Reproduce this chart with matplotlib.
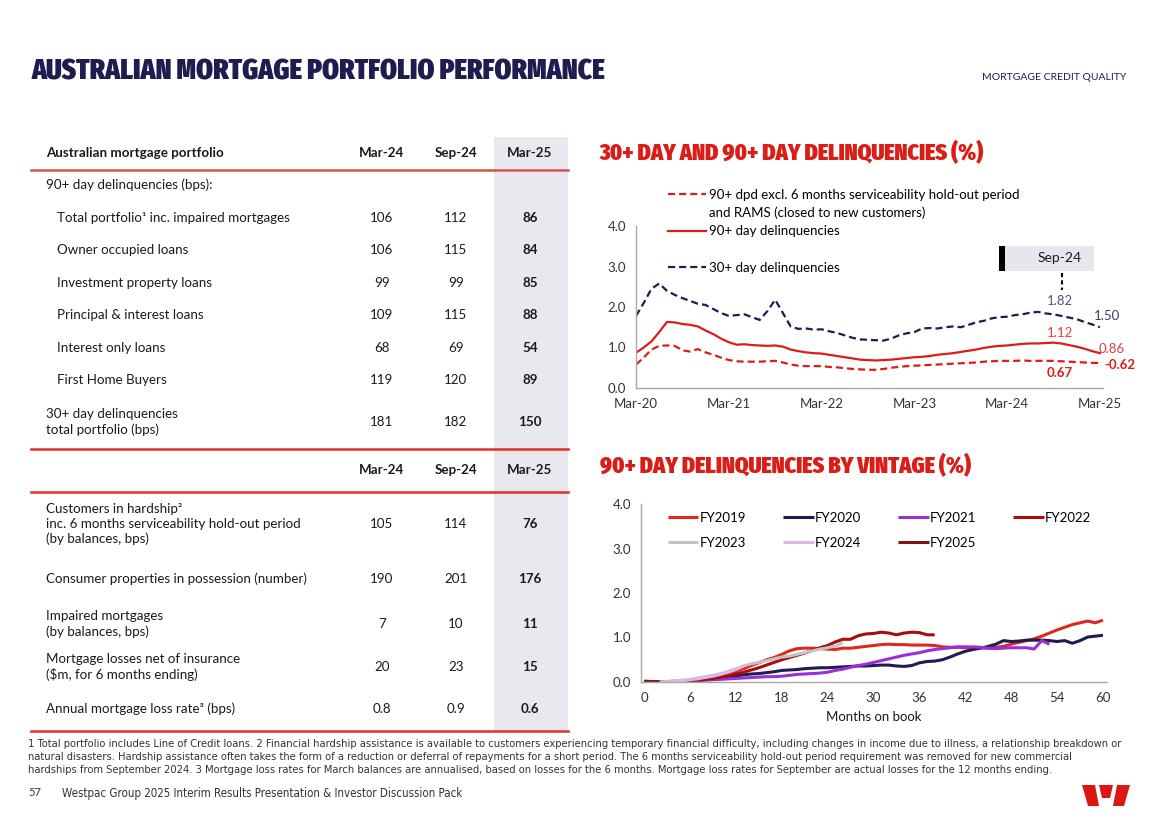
import numpy as np
import matplotlib
matplotlib.use("Agg")
import matplotlib.pyplot as plt
from matplotlib import font_manager as fm
from matplotlib.font_manager import FontProperties
from matplotlib.lines import Line2D
from matplotlib.patches import Rectangle, Polygon

W, H = 1168, 825

# ---------------- table data ----------------
col_heads = ["Mar-24", "Sep-24", "Mar-25"]

dlq_rows = ["Total portfolio¹ inc. impaired mortgages", "Owner occupied loans",
            "Investment property loans", "Principal & interest loans",
            "Interest only loans", "First Home Buyers",
            "30+ day delinquencies\ntotal portfolio (bps)"]
dlq_mar24 = ["106", "106", "99", "109", "68", "119", "181"]
dlq_sep24 = ["112", "115", "99", "115", "69", "120", "182"]
dlq_mar25 = ["86", "84", "85", "88", "54", "89", "150"]

other_rows = ["Customers in hardship²\ninc. 6 months serviceability hold-out period\n(by balances, bps)",
              "Consumer properties in possession (number)",
              "Impaired mortgages\n(by balances, bps)",
              "Mortgage losses net of insurance\n($m, for 6 months ending)",
              "Annual mortgage loss rate³ (bps)"]
other_mar24 = ["105", "190", "7", "20", "0.8"]
other_sep24 = ["114", "201", "10", "23", "0.9"]
other_mar25 = ["76", "176", "11", "15", "0.6"]

# ---------------- delinquency trend (monthly, Mar-20 .. Mar-25) ----------------
dlq_labels = ["Mar-20", "Mar-21", "Mar-22", "Mar-23", "Mar-24", "Mar-25"]
dpd30 = [1.78, 2.10, 2.45, 2.58, 2.40, 2.30, 2.22, 2.15, 2.08, 2.05, 1.95, 1.85,
         1.78, 1.80, 1.82, 1.75, 1.68, 1.90, 2.18, 1.85, 1.52, 1.46, 1.47, 1.44,
         1.45, 1.40, 1.36, 1.30, 1.24, 1.20, 1.19, 1.18, 1.17, 1.22, 1.30, 1.35,
         1.38, 1.47, 1.48, 1.47, 1.50, 1.52, 1.50, 1.56, 1.62, 1.66, 1.72, 1.75,
         1.76, 1.80, 1.82, 1.86, 1.88, 1.84, 1.82, 1.78, 1.74, 1.70, 1.63, 1.57, 1.50]
dpd90 = [0.87, 1.00, 1.15, 1.38, 1.63, 1.62, 1.58, 1.56, 1.52, 1.42, 1.33, 1.22,
         1.13, 1.07, 1.08, 1.06, 1.05, 1.04, 1.05, 1.02, 0.95, 0.91, 0.88, 0.86,
         0.85, 0.82, 0.79, 0.76, 0.73, 0.70, 0.69, 0.68, 0.69, 0.70, 0.72, 0.74,
         0.76, 0.77, 0.79, 0.82, 0.84, 0.86, 0.89, 0.92, 0.95, 0.99, 1.02, 1.04,
         1.05, 1.07, 1.09, 1.10, 1.10, 1.11, 1.12, 1.10, 1.06, 1.02, 0.97, 0.91, 0.86]
dpd90_excl = [0.58, 0.75, 0.95, 1.04, 1.05, 1.04, 0.93, 0.90, 0.96, 0.88, 0.82, 0.75,
              0.69, 0.66, 0.65, 0.65, 0.65, 0.66, 0.67, 0.63, 0.58, 0.55, 0.54, 0.54,
              0.54, 0.52, 0.51, 0.49, 0.47, 0.46, 0.45, 0.45, 0.47, 0.50, 0.52, 0.54,
              0.55, 0.56, 0.57, 0.58, 0.59, 0.60, 0.61, 0.62, 0.63, 0.65, 0.66, 0.67,
              0.67, 0.67, 0.68, 0.67, 0.67, 0.67, 0.67, 0.66, 0.65, 0.64, 0.63, 0.62, 0.62]

# ---------------- 90+ by vintage (months on book, start month, values) ----------------
fy2019 = [0.00, 0.00, 0.01, 0.01, 0.02, 0.02, 0.03, 0.05, 0.07, 0.10, 0.14, 0.19,
          0.24, 0.30, 0.37, 0.43, 0.50, 0.55, 0.62, 0.70, 0.75, 0.76, 0.76, 0.75,
          0.74, 0.73, 0.76, 0.76, 0.78, 0.80, 0.82, 0.84, 0.85, 0.84, 0.84, 0.83,
          0.83, 0.83, 0.82, 0.79, 0.78, 0.78, 0.77, 0.77, 0.77, 0.76, 0.78, 0.80,
          0.85, 0.89, 0.93, 0.97, 1.03, 1.10, 1.17, 1.23, 1.29, 1.33, 1.37, 1.33, 1.39]
fy2020 = [0.00, 0.01, 0.02, 0.03, 0.04, 0.06, 0.08, 0.10, 0.12, 0.14, 0.16, 0.18,
          0.19, 0.21, 0.23, 0.26, 0.27, 0.28, 0.30, 0.31, 0.32, 0.32, 0.33, 0.34,
          0.35, 0.36, 0.36, 0.37, 0.38, 0.38, 0.36, 0.35, 0.37, 0.43, 0.46, 0.47,
          0.50, 0.56, 0.63, 0.69, 0.73, 0.76, 0.80, 0.85, 0.93, 0.91, 0.92, 0.94,
          0.94, 0.94, 0.93, 0.91, 0.93, 0.87, 0.93, 1.01, 1.03, 1.05]
fy2021 = [0.00, 0.01, 0.02, 0.03, 0.04, 0.05, 0.06, 0.07, 0.08, 0.09, 0.10, 0.11,
          0.12, 0.12, 0.13, 0.15, 0.17, 0.18, 0.19, 0.20, 0.22, 0.26, 0.29, 0.33,
          0.37, 0.40, 0.44, 0.48, 0.52, 0.56, 0.60, 0.63, 0.66, 0.70, 0.73, 0.75,
          0.77, 0.79, 0.79, 0.79, 0.78, 0.76, 0.75, 0.76, 0.77, 0.77, 0.77, 0.74,
          0.93, 0.85]
fy2022 = [0.00, 0.00, 0.01, 0.01, 0.02, 0.04, 0.06, 0.08, 0.11, 0.14, 0.18, 0.22,
          0.27, 0.32, 0.38, 0.44, 0.50, 0.55, 0.60, 0.65, 0.71, 0.77, 0.82, 0.90,
          0.96, 0.96, 1.04, 1.08, 1.09, 1.12, 1.10, 1.06, 1.10, 1.12, 1.11, 1.06, 1.06]
fy2023 = [0.00, 0.01, 0.03, 0.05, 0.07, 0.10, 0.13, 0.17, 0.22, 0.28, 0.36, 0.41,
          0.44, 0.48, 0.52, 0.56, 0.58, 0.62, 0.66, 0.70, 0.74, 0.77, 0.81, 0.88]
fy2024 = [0.00, 0.01, 0.02, 0.04, 0.06, 0.09, 0.12, 0.15, 0.19, 0.24, 0.30, 0.36]
fy2025 = [0.02, 0.01, 0.01]
vintage_names = ["FY2019", "FY2020", "FY2021", "FY2022", "FY2023", "FY2024", "FY2025"]
vintage_data = [fy2019, fy2020, fy2021, fy2022, fy2023, fy2024, fy2025]
vintage_start = [0, 3, 4, 2, 3, 2, 0]
vintage_colors = ["#e2261d", "#1f1c4f", "#9a2fd8", "#a80c0c", "#c3c3c3", "#dcb8ea", "#7e1414"]

NAVY = "#1f1c4f"
RED = "#da1e17"
TXT = "#1a1a1a"
BODY = "Lato"


def fx(px):
    return px / W


def fy(py):
    return 1 - py / H


def pick_condensed(heavy):
    # look for an installed condensed / narrow face
    best, best_score = None, None
    for f in fm.fontManager.ttflist:
        cond = (f.stretch in ("condensed", "semi-condensed", "extra-condensed", "ultra-condensed")
                or "Condensed" in f.name or "Narrow" in f.name)
        if not cond or f.style != "normal":
            continue
        try:
            w = int(f.weight)
        except (TypeError, ValueError):
            w = {"bold": 700, "black": 900, "heavy": 900}.get(str(f.weight), 400)
        score = -abs(w - (900 if heavy else 400))
        if "ExtraCondensed" in f.fname:
            score += 50 if heavy else -50
        if best_score is None or score > best_score:
            best, best_score = f, score
    if best is None:
        return FontProperties(family="DejaVu Sans", weight="bold" if heavy else "normal")
    return FontProperties(fname=best.fname)


fp_head = pick_condensed(True)
fp_note = pick_condensed(False)

fig = plt.figure(figsize=(11.68, 8.25), dpi=100)
fig.patch.set_facecolor("white")
renderer = fig.canvas.get_renderer()


def fit_text(x, y, s, width_px, fp, size0, **kw):
    # real text, sized so it spans the same width as the slide
    p = fp.copy()
    p.set_size(size0)
    t = fig.text(x, y, s, fontproperties=p, **kw)
    wpx = t.get_window_extent(renderer).width
    p.set_size(size0 * width_px / wpx)
    t.set_fontproperties(p)
    return t


# ---------------- headings ----------------
fit_text(fx(32), fy(72), "AUSTRALIAN MORTGAGE PORTFOLIO PERFORMANCE", 572, fp_head, 24,
         color=NAVY, va="center")
fig.text(fx(1126), fy(78), "MORTGAGE CREDIT QUALITY", ha="right", va="center",
         fontsize=7.5, color=NAVY, family=BODY)
fit_text(fx(600), fy(153), "30+ DAY AND 90+ DAY DELINQUENCIES (%)", 387, fp_head, 15,
         color=RED, va="center")
fit_text(fx(600), fy(466), "90+ DAY DELINQUENCIES BY VINTAGE (%)", 374, fp_head, 15,
         color=RED, va="center")

# ---------------- table ----------------
fig.patches.append(Rectangle((fx(494), fy(731)), fx(568) - fx(494), (731 - 137) / H,
                             transform=fig.transFigure, facecolor="#e9e8ee",
                             edgecolor="none", zorder=0))
for yy, c in [(170, "#d2534c"), (449, "#e0302a"), (492, "#e0302a"), (731, "#e0302a")]:
    fig.add_artist(Line2D([fx(31), fx(568)], [fy(yy), fy(yy)], color=c, lw=1.8))

col_x = [382, 456, 530]
fs = 9.6
fig.text(fx(46), fy(153), "Australian mortgage portfolio", fontsize=fs, fontweight="bold",
         family=BODY, color=TXT, va="center")
for cx, h in zip(col_x, col_heads):
    fig.text(fx(cx), fy(153), h, fontsize=fs, fontweight="bold", family=BODY,
             color=TXT, ha="center", va="center")
    fig.text(fx(cx), fy(470), h, fontsize=fs, fontweight="bold", family=BODY,
             color=TXT, ha="center", va="center")

fig.text(fx(46), fy(185), "90+ day delinquencies (bps):", fontsize=fs, family=BODY,
         color=TXT, va="center")
dlq_y = [218, 250, 283, 315, 348, 380, 422]
for i, lab in enumerate(dlq_rows):
    lx = 46 if "\n" in lab else 57
    fig.text(fx(lx), fy(dlq_y[i]), lab, fontsize=fs, family=BODY, color=TXT,
             va="center", linespacing=1.25)
    for cx, v, bold in zip(col_x, [dlq_mar24[i], dlq_sep24[i], dlq_mar25[i]],
                           [False, False, True]):
        fig.text(fx(cx), fy(dlq_y[i]), v, fontsize=fs, family=BODY, color=TXT,
                 ha="center", va="center", fontweight="bold" if bold else "normal")

oth_y = [524, 579, 624, 667, 709]
for i, lab in enumerate(other_rows):
    fig.text(fx(46), fy(oth_y[i]), lab, fontsize=fs, family=BODY, color=TXT,
             va="center", linespacing=1.25)
    for cx, v, bold in zip(col_x, [other_mar24[i], other_sep24[i], other_mar25[i]],
                           [False, False, True]):
        fig.text(fx(cx), fy(oth_y[i]), v, fontsize=fs, family=BODY, color=TXT,
                 ha="center", va="center", fontweight="bold" if bold else "normal")

# ---------------- chart 1 ----------------
ax1 = fig.add_axes([fx(636), fy(388), (1103 - 636) / W, (388 - 226) / H])
months = np.arange(len(dpd30))
dash = (0, (3.2, 1.8))
l_excl, = ax1.plot(months, dpd90_excl, color=RED, lw=1.6, ls=dash)
l_90, = ax1.plot(months, dpd90, color=RED, lw=1.6)
l_30, = ax1.plot(months, dpd30, color=NAVY, lw=1.6, ls=dash)
ax1.set_xlim(0, 60.4)
ax1.set_ylim(0, 4)
ax1.set_xticks(np.arange(0, 61, 12))
ax1.set_xticklabels(dlq_labels)
ax1.set_yticks(np.arange(0, 4.01, 1))
ax1.set_yticklabels([f"{v:.1f}" for v in np.arange(0, 4.01, 1)])

blank = Line2D([], [], color="none")
ax1.legend([l_excl, blank, l_90, blank, l_30],
           ["90+ dpd excl. 6 months serviceability hold-out period",
            "and RAMS (closed to new customers)", "90+ day delinquencies", " ",
            "30+ day delinquencies"],
           loc="upper left", bbox_to_anchor=(0.068, 1.23), frameon=False,
           prop={"family": BODY, "size": 9.5}, handlelength=2.9, handletextpad=0.25,
           borderpad=0, borderaxespad=0, labelspacing=0.46)

# end labels
ax1.text(54.8, 2.15, "1.82", color="#55557a", fontsize=9.5, family=BODY, ha="center", va="center")
ax1.text(60.9, 1.78, "1.50", color="#3d3d66", fontsize=9.5, family=BODY, ha="center", va="center")
ax1.text(54.8, 1.36, "1.12", color="#e0403a", fontsize=9.5, family=BODY, ha="center", va="center")
ax1.text(61.5, 0.96, "0.86", color="#e0403a", fontsize=9.5, family=BODY, ha="center", va="center")
ax1.text(60.6, 0.57, "-0.62", color=RED, fontsize=9.5, family=BODY, fontweight="bold",
         ha="left", va="center")
ax1.text(54.8, 0.37, "0.67", color=RED, fontsize=9.5, family=BODY, fontweight="bold",
         ha="center", va="center")
# Sep-24 callout
ax1.add_patch(Rectangle((47.3, 2.89), 11.9, 0.61, facecolor="#e6e6ec", edgecolor="none",
                        clip_on=False, zorder=3))
ax1.add_patch(Rectangle((47.0, 2.89), 0.75, 0.61, facecolor="black", edgecolor="none",
                        clip_on=False, zorder=4))
ax1.text(54.8, 3.2, "Sep-24", fontsize=10, family=BODY, color=TXT, ha="center",
         va="center", zorder=5)
ax1.plot([55.1, 55.1], [2.84, 2.42], color="black", lw=1.5, ls=(0, (2, 1.5)), clip_on=False)

# ---------------- chart 2 ----------------
ax2 = fig.add_axes([fx(640.6), fy(682), (1106.8 - 640.6) / W, (682 - 504) / H])
handles = []
for name, vals, st, c in zip(vintage_names, vintage_data, vintage_start, vintage_colors):
    ln, = ax2.plot(np.arange(st, st + len(vals)), vals, color=c, lw=2.2,
                   solid_capstyle="butt", label=name)
    handles.append(ln)
ax2.set_xlim(-0.45, 60.5)
ax2.set_ylim(0, 4)
ax2.set_xticks(np.arange(0, 61, 6))
ax2.set_yticks(np.arange(0, 4.01, 1))
ax2.set_yticklabels([f"{v:.1f}" for v in np.arange(0, 4.01, 1)])
ax2.set_xlabel("Months on book", fontsize=9.5, family=BODY, color=TXT, labelpad=5)
# legend fills column by column, so reorder to read row by row
leg_order = [0, 4, 1, 5, 2, 6, 3]
ax2.legend([handles[i] for i in leg_order], [vintage_names[i] for i in leg_order],
           ncol=4, loc="upper left", bbox_to_anchor=(0.059, 0.955),
           frameon=False, prop={"family": BODY, "size": 9.5}, handlelength=2.3,
           handletextpad=0.1, columnspacing=2.8, borderpad=0, borderaxespad=0,
           labelspacing=0.95)

for ax in (ax1, ax2):
    for s in ("top", "right"):
        ax.spines[s].set_visible(False)
    for s in ("left", "bottom"):
        ax.spines[s].set_color("#a8a8a8")
        ax.spines[s].set_linewidth(1.0)
    ax.tick_params(length=0, labelsize=9.5, labelcolor="#333333", pad=7)
    for lab in ax.get_xticklabels() + ax.get_yticklabels():
        lab.set_family(BODY)

# ---------------- footnotes ----------------
notes = ["1 Total portfolio includes Line of Credit loans. 2 Financial hardship assistance is available to customers experiencing temporary financial difficulty, including changes in income due to illness, a relationship breakdown or",
         "natural disasters. Hardship assistance often takes the form of a reduction or deferral of repayments for a short period. The 6 months serviceability hold-out period requirement was removed for new commercial",
         "hardships from September 2024. 3 Mortgage loss rates for March balances are annualised, based on losses for the 6 months. Mortgage loss rates for September are actual losses for the 12 months ending."]
note_w = [1092, 1041, 1024]
for i, (s, wpx) in enumerate(zip(notes, note_w)):
    fit_text(fx(28), fy(744 + 13 * i), s, wpx, fp_note, 7.5, color="#333333", va="center")
fig.text(fx(28), fy(793), "57", fontsize=8, color="#333333", va="center", family=BODY)
fit_text(fx(62), fy(793), "Westpac Group 2025 Interim Results Presentation & Investor Discussion Pack",
         399, fp_note, 7.5, color="#333333", va="center")

# logo
for pts in [[(1082, 785), (1095, 785), (1099, 806), (1088, 806)],
            [(1099, 785), (1113, 785), (1110, 798), (1102, 798)],
            [(1117, 785), (1130, 785), (1124, 806), (1113, 806)]]:
    fig.patches.append(Polygon([(fx(a), fy(b)) for a, b in pts], closed=True,
                               transform=fig.transFigure, facecolor="#da1710", edgecolor="none"))

fig.savefig("out.png", dpi=100)
